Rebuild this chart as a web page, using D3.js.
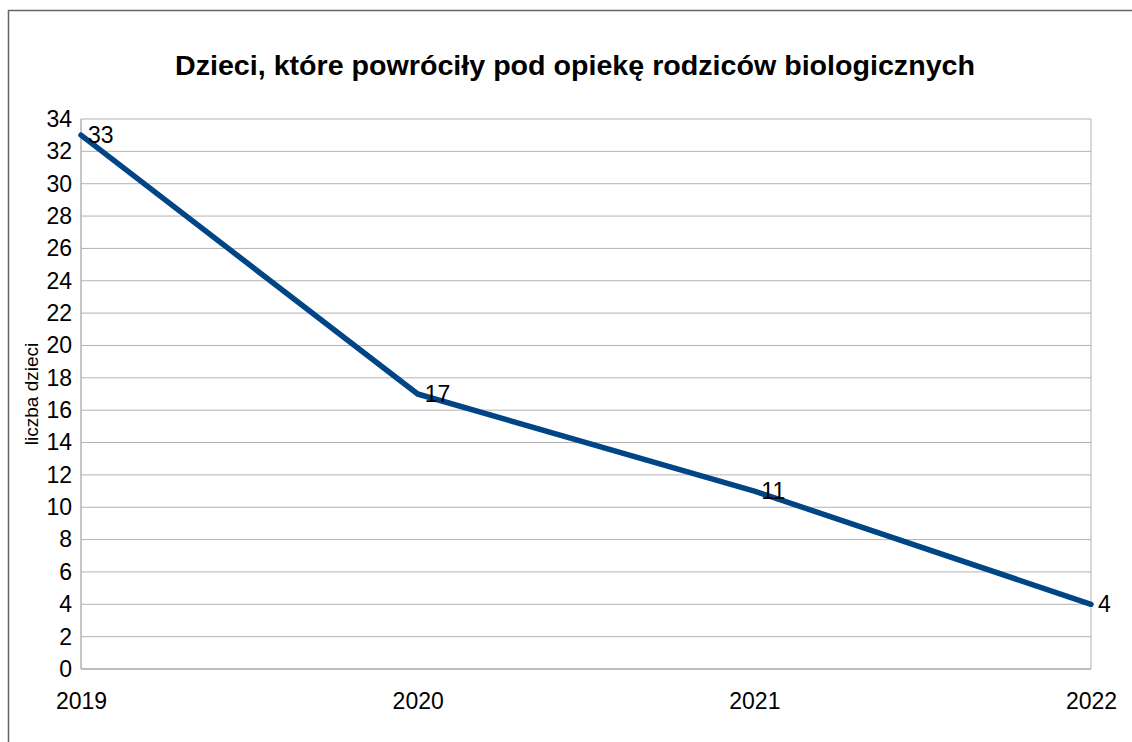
<!DOCTYPE html>
<html><head><meta charset="utf-8">
<script src="https://cdn.jsdelivr.net/npm/d3@7"></script>
<style>body{margin:0;background:#fff}svg{display:block}text{font-family:"Liberation Sans",Arial,sans-serif}</style>
</head><body>
<svg id="c" width="1132" height="742"></svg>
<script>
const years = ["2019","2020","2021","2022"];
const values = [33,17,11,4];
const yTicks = d3.range(0,35,2);
const title = "Dzieci, które powróciły pod opiekę rodziców biologicznych";
const yTitle = "liczba dzieci";

const svg = d3.select("#c");
const m = {left:81, right:1091, top:119, bottom:669};
svg.append("rect").attr("x",8.5).attr("y",10.5).attr("width",1200).attr("height",800)
  .attr("fill","none").attr("stroke","#666").attr("stroke-width",1.5);

const x = d3.scalePoint().domain(years).range([m.left,m.right]);
const y = d3.scaleLinear().domain([0,34]).range([m.bottom,m.top]);

const g = svg.append("g");
g.selectAll("line.grid").data(yTicks).join("line").attr("class","grid")
  .attr("x1",m.left).attr("x2",m.right).attr("y1",d=>y(d)).attr("y2",d=>y(d))
  .attr("stroke","#b3b3b3").attr("stroke-width",1);
g.append("line").attr("x1",m.left).attr("x2",m.left).attr("y1",m.top).attr("y2",m.bottom).attr("stroke","#b3b3b3").attr("stroke-width",1.5);
g.append("line").attr("x1",m.right).attr("x2",m.right).attr("y1",m.top).attr("y2",m.bottom).attr("stroke","#b3b3b3").attr("stroke-width",1);
g.append("line").attr("x1",m.left).attr("x2",m.right).attr("y1",m.bottom).attr("y2",m.bottom).attr("stroke","#b3b3b3").attr("stroke-width",1.5);

const ya = d3.axisLeft(y).tickValues(yTicks).tickSize(0).tickPadding(9);
svg.append("g").attr("transform",`translate(${m.left},0)`).call(ya)
  .attr("font-size",23).attr("font-family","Liberation Sans, Arial, sans-serif")
  .call(s=>s.select(".domain").remove())
  .selectAll("text").attr("fill","#000");

const xa = d3.axisBottom(x).tickSize(0).tickPadding(24);
svg.append("g").attr("transform",`translate(0,${m.bottom})`).call(xa)
  .attr("font-size",23).attr("font-family","Liberation Sans, Arial, sans-serif")
  .call(s=>s.select(".domain").remove())
  .selectAll("text").attr("fill","#000");

const data = years.map((yr,i)=>({yr,v:values[i]}));
svg.append("path").datum(data)
  .attr("d",d3.line().x(d=>x(d.yr)).y(d=>y(d.v)))
  .attr("fill","none").attr("stroke","#004586").attr("stroke-width",5.5)
  .attr("stroke-linejoin","round").attr("stroke-linecap","round");

svg.selectAll("text.lbl").data(data).join("text").attr("class","lbl")
  .attr("x",d=>x(d.yr)+7).attr("y",d=>y(d.v)).attr("dy","0.35em")
  .attr("font-size",23).attr("fill","#000").text(d=>d.v);

svg.append("text").attr("x",575).attr("y",75).attr("text-anchor","middle")
  .attr("font-size",27).attr("font-weight","bold").attr("fill","#000")
  .attr("textLength",800).attr("lengthAdjust","spacingAndGlyphs").text(title);

svg.append("text").attr("transform",`translate(38,${(m.top+m.bottom)/2}) rotate(-90)`)
  .attr("text-anchor","middle").attr("font-size",19).attr("fill","#000").text(yTitle);
</script>
</body></html>
